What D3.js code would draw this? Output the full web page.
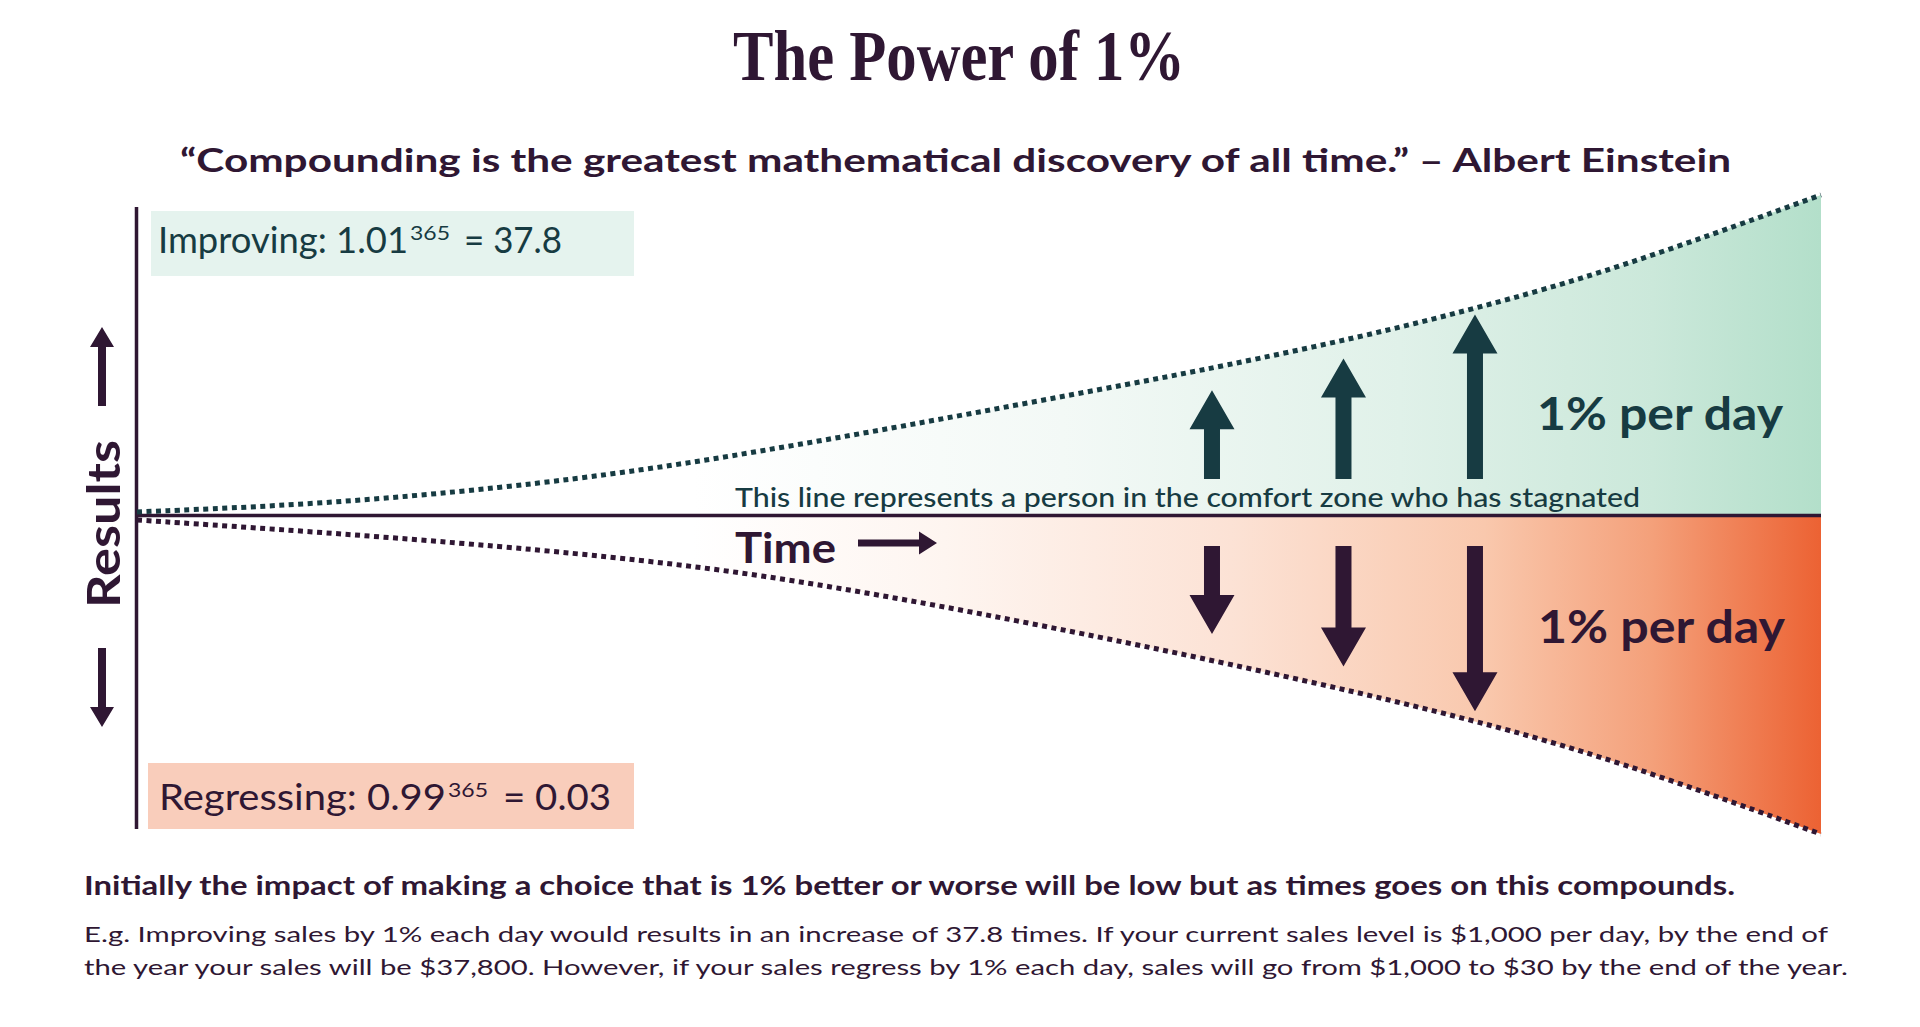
<!DOCTYPE html>
<html>
<head>
<meta charset="utf-8">
<script src="https://cdn.jsdelivr.net/npm/d3@7"></script>
<style>
  html, body { margin: 0; padding: 0; background: #ffffff; }
  svg { display: block; }
</style>
</head>
<body>
<div id="chart"></div>
<script>
// ---------- data ----------
const days = [0, 40, 80, 110, 135, 165, 190, 215, 235, 265, 290, 320, 365];
const improving = [0.011, 0.035, 0.087, 0.142, 0.200, 0.276, 0.343, 0.410, 0.465, 0.556, 0.645, 0.765, 1.0];
const regressing = [-0.014, -0.052, -0.097, -0.140, -0.185, -0.258, -0.326, -0.398, -0.458, -0.553, -0.640, -0.760, -0.994];

const arrowDays = [233, 261.5, 290];
const upTips = [0.391, 0.49, 0.627];
const upBase = 0.114;
const downTips = [-0.37, -0.471, -0.611];
const downBase = -0.095;

const titleText = "The Power of 1%";
const quoteText = "\u201CCompounding is the greatest mathematical discovery of all time.\u201D \u2013 Albert Einstein";
const improvingLabel = ["Improving: 1.01", "365", "= 37.8"];
const regressingLabel = ["Regressing: 0.99", "365", "= 0.03"];
const stagnantText = "This line represents a person in the comfort zone who has stagnated";
const perDayText = "1% per day";
const axisY = "Results";
const axisX = "Time";
const footBold = "Initially the impact of making a choice that is 1% better or worse will be low but as times goes on this compounds.";
const footLines = [
  "E.g. Improving sales by 1% each day would results in an increase of 37.8 times. If your current sales level is $1,000 per day, by the end of",
  "the year your sales will be $37,800. However, if your sales regress by 1% each day, sales will go from $1,000 to $30 by the end of the year."
];

// ---------- setup ----------
const W = 1920, H = 1027;
const PURPLE = "#2f1733", TEAL = "#173b42";
const SANS = "Lato, 'Open Sans', sans-serif";

const svg = d3.select("#chart").append("svg").attr("width", W).attr("height", H);
svg.append("rect").attr("width", W).attr("height", H).attr("fill", "#fff");

const x = d3.scaleLinear().domain([0, 365]).range([137, 1821]);
const y = d3.scaleLinear().domain([-1, 1]).range([836, 195]);

const defs = svg.append("defs");
const gUp = defs.append("linearGradient").attr("id", "gUp")
  .attr("gradientUnits", "userSpaceOnUse")
  .attr("x1", x(0)).attr("x2", x(365)).attr("y1", 0).attr("y2", 0);
[[0, "#ffffff"], [0.33, "#ffffff"], [0.55, "#f3f9f6"], [0.75, "#e0f1e9"], [0.9, "#cbe8da"], [1, "#b3dfca"]]
  .forEach(([o, c]) => gUp.append("stop").attr("offset", o).attr("stop-color", c));
const gDn = defs.append("linearGradient").attr("id", "gDn")
  .attr("gradientUnits", "userSpaceOnUse")
  .attr("x1", x(0)).attr("x2", x(365)).attr("y1", 0).attr("y2", 0);
[[0, "#ffffff"], [0.33, "#ffffff"], [0.48, "#fef5f0"], [0.65, "#fce2d5"], [0.8, "#f9c8ad"], [0.9, "#f4a07a"], [1, "#ec6233"]]
  .forEach(([o, c]) => gDn.append("stop").attr("offset", o).attr("stop-color", c));

const upData = days.map((d, i) => ({ d, v: improving[i] }));
const dnData = days.map((d, i) => ({ d, v: regressing[i] }));

const curve = d3.curveBasis;
const area = d3.area().x(p => x(p.d)).y0(y(0)).y1(p => y(p.v)).curve(curve);
const line = d3.line().x(p => x(p.d)).y(p => y(p.v)).curve(curve);

svg.append("path").datum(upData).attr("d", area).attr("fill", "url(#gUp)");
svg.append("path").datum(dnData).attr("d", area).attr("fill", "url(#gDn)");

// baseline (stagnation) and y axis
svg.append("line").attr("x1", x(0)).attr("x2", x(365)).attr("y1", y(0)).attr("y2", y(0))
  .attr("stroke", PURPLE).attr("stroke-width", 3.5);
svg.append("line").attr("x1", 136.5).attr("x2", 136.5).attr("y1", 207).attr("y2", 829)
  .attr("stroke", PURPLE).attr("stroke-width", 3.5);

// dotted curves
svg.append("path").datum(upData).attr("d", line).attr("fill", "none")
  .attr("stroke", TEAL).attr("stroke-width", 5).attr("stroke-dasharray", "5 4.5");
svg.append("path").datum(dnData).attr("d", line).attr("fill", "none")
  .attr("stroke", PURPLE).attr("stroke-width", 5).attr("stroke-dasharray", "5 4.5");

// arrow helper: vertical block arrow
function arrowPath(cx, yFrom, yTip, headW, headH, shaftW) {
  const dir = yTip < yFrom ? -1 : 1;
  const yHead = yTip - dir * headH;
  return `M${cx - shaftW / 2},${yFrom} L${cx - shaftW / 2},${yHead} L${cx - headW / 2},${yHead} L${cx},${yTip} L${cx + headW / 2},${yHead} L${cx + shaftW / 2},${yHead} L${cx + shaftW / 2},${yFrom} Z`;
}

arrowDays.forEach((d, i) => {
  svg.append("path").attr("d", arrowPath(x(d), y(upBase), y(upTips[i]), 45, 39, 16)).attr("fill", TEAL);
  svg.append("path").attr("d", arrowPath(x(d), y(downBase), y(downTips[i]), 45, 39, 16)).attr("fill", PURPLE);
});

// small axis arrows
svg.append("path").attr("d", arrowPath(102, 406, 327, 24, 20, 8)).attr("fill", PURPLE);
svg.append("path").attr("d", arrowPath(102, 648, 727, 24, 20, 8)).attr("fill", PURPLE);
// time arrow (horizontal)
svg.append("path").attr("d", "M858,539.5 L919,539.5 L919,531.5 L937,543 L919,554.5 L919,546.5 L858,546.5 Z").attr("fill", PURPLE);

// ---------- text ----------
function txt(str, opts) {
  const t = svg.append("text").text(str)
    .attr("x", opts.x).attr("y", opts.y)
    .attr("font-family", opts.family || SANS)
    .attr("font-size", opts.size)
    .attr("font-weight", opts.weight || 400)
    .attr("fill", opts.fill || PURPLE)
    .attr("text-anchor", opts.anchor || "start");
  if (opts.len) t.attr("textLength", opts.len).attr("lengthAdjust", opts.adjust || "spacingAndGlyphs");
  if (opts.transform) t.attr("transform", opts.transform);
  return t;
}

txt(titleText, { x: 959, y: 80, size: 72, weight: 700, family: "'Liberation Serif', 'DejaVu Serif', serif", anchor: "middle", len: 452 });
txt(quoteText, { x: 180, y: 172, size: 33, weight: 700, len: 1551 });

// label boxes
svg.append("rect").attr("x", 151).attr("y", 211).attr("width", 483).attr("height", 65).attr("fill", "#e5f3ee");
svg.append("rect").attr("x", 148).attr("y", 763).attr("width", 486).attr("height", 66).attr("fill", "#f9cdbb");

txt(improvingLabel[0], { x: 158, y: 253, size: 36, fill: TEAL, len: 250 });
txt(improvingLabel[1], { x: 410, y: 240, size: 20, fill: TEAL, len: 40 });
txt(improvingLabel[2], { x: 464, y: 253, size: 36, fill: TEAL, len: 98 });
txt(regressingLabel[0], { x: 159, y: 810, size: 37, fill: PURPLE, len: 287 });
txt(regressingLabel[1], { x: 448, y: 797, size: 20, fill: PURPLE, len: 40 });
txt(regressingLabel[2], { x: 503, y: 810, size: 37, fill: PURPLE, len: 108 });

txt(axisY, { x: 0, y: 0, size: 46, weight: 700, anchor: "middle", len: 168, transform: "translate(120,524) rotate(-90)" });
txt(axisX, { x: 735, y: 563, size: 42, weight: 700, len: 101 });
txt(stagnantText, { x: 735, y: 507, size: 27, weight: 500, fill: TEAL, len: 905 });

txt(perDayText, { x: 1537, y: 430, size: 45, weight: 700, fill: TEAL, len: 246 });
txt(perDayText, { x: 1538, y: 643, size: 45, weight: 700, fill: PURPLE, len: 247 });

txt(footBold, { x: 84, y: 895, size: 26.5, weight: 700, len: 1651 });
txt(footLines[0], { x: 84, y: 942, size: 22, len: 1744 });
txt(footLines[1], { x: 84, y: 975, size: 22, len: 1764 });
</script>
</body>
</html>
